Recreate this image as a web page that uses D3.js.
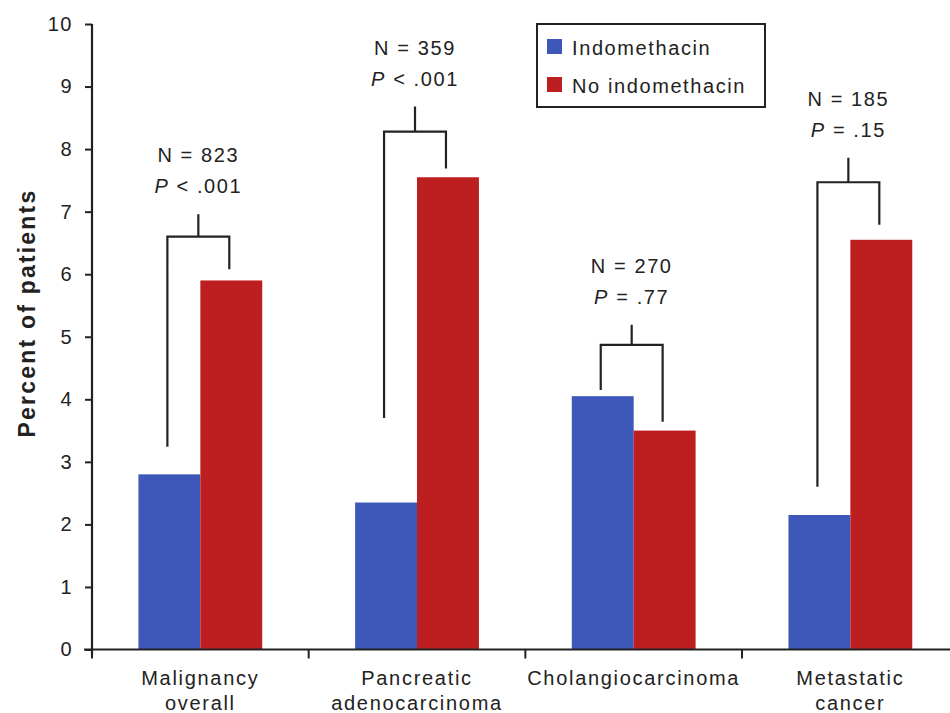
<!DOCTYPE html>
<html>
<head>
<meta charset="utf-8">
<script src="https://cdn.jsdelivr.net/npm/d3@7"></script>
<style>
  html, body { margin: 0; padding: 0; background: #fff; }
  svg { display: block; }
  text { font-family: "Liberation Sans", Arial, Helvetica, sans-serif; fill: #222; }
</style>
</head>
<body>
<svg id="chart" width="950" height="713"></svg>
<script>
// Categories (label lines) and series
const categories = ["Malignancy overall", "Pancreatic adenocarcinoma", "Cholangiocarcinoma", "Metastatic cancer"];
const categoryLines = [["Malignancy", "overall"], ["Pancreatic", "adenocarcinoma"], ["Cholangiocarcinoma"], ["Metastatic", "cancer"]];
const seriesNames = ["Indomethacin", "No indomethacin"];
const indomethacin = [2.8, 2.35, 4.05, 2.15];
const noIndomethacin = [5.9, 7.55, 3.5, 6.55];
const yTicks = [0, 1, 2, 3, 4, 5, 6, 7, 8, 9, 10];

// Comparison annotations
const nLabels = ["N = 823", "N = 359", "N = 270", "N = 185"];
const pOps = ["< .001", "< .001", "= .77", "= .15"];
// Bracket levels, in percent units
const bracketTop = [6.6, 8.28, 4.87, 7.47];
const stemTop = [6.96, 8.68, 5.19, 7.86];
const leftLegEnd = [3.24, 3.7, 4.15, 2.6];
const rightLegEnd = [6.08, 7.69, 3.64, 6.79];

const colors = ["#3d58b8", "#bd1f20"];
const ink = "#222";

const svg = d3.select("#chart");

const y = d3.scaleLinear().domain([0, 10]).range([649.5, 24]);
const x = d3.scaleBand().domain(categories).range([92, 958.7]).padding(0);
const xs = d3.scaleBand().domain(seriesNames).range([0, x.bandwidth()]).paddingInner(0).paddingOuter(0.75);

const rows = categories.map((c, i) => ({
  cat: c, i,
  vals: [indomethacin[i], noIndomethacin[i]]
}));

// Bars
const g = svg.append("g");
const groups = g.selectAll("g.grp").data(rows).join("g")
  .attr("class", "grp")
  .attr("transform", d => `translate(${x(d.cat)},0)`);
groups.selectAll("rect").data(d => d.vals.map((v, k) => ({ v, k })))
  .join("rect")
  .attr("x", d => xs(seriesNames[d.k]))
  .attr("width", xs.bandwidth())
  .attr("y", d => y(d.v))
  .attr("height", d => y(0) - y(d.v))
  .attr("fill", d => colors[d.k]);

// Brackets and labels
const ann = svg.append("g");
rows.forEach((d, i) => {
  const xl = x(d.cat) + xs(seriesNames[0]) + xs.bandwidth() / 2 - 2;
  const xr = x(d.cat) + xs(seriesNames[1]) + xs.bandwidth() / 2 - 2;
  const xc = (xl + xr) / 2;
  const path = d3.path();
  path.moveTo(xl, y(leftLegEnd[i]));
  path.lineTo(xl, y(bracketTop[i]));
  path.lineTo(xr, y(bracketTop[i]));
  path.lineTo(xr, y(rightLegEnd[i]));
  path.moveTo(xc, y(bracketTop[i]));
  path.lineTo(xc, y(stemTop[i]));
  ann.append("path").attr("d", path.toString())
    .attr("fill", "none").attr("stroke", ink).attr("stroke-width", 2.2);

  const pBase = y(stemTop[i]) - 21;
  ann.append("text").attr("x", xc).attr("y", pBase - 31)
    .attr("text-anchor", "middle").attr("font-size", 20).attr("letter-spacing", 1.6)
    .text(nLabels[i]);
  const t = ann.append("text").attr("x", xc).attr("y", pBase)
    .attr("text-anchor", "middle").attr("font-size", 20).attr("letter-spacing", 1.6);
  t.append("tspan").attr("font-style", "italic").text("P");
  t.append("tspan").text(" " + pOps[i]);
});

// Y axis
const yAxis = d3.axisLeft(y).tickValues(yTicks).tickSize(7).tickPadding(12).tickFormat(d3.format("d"));
const ya = svg.append("g").attr("transform", "translate(92,0)").call(yAxis);
ya.select(".domain").attr("stroke", ink).attr("stroke-width", 2.2).attr("d", `M0,${y(10)}V${y(0) + 6}`);
ya.selectAll(".tick line").attr("stroke", ink).attr("stroke-width", 2);
ya.selectAll(".tick text").attr("font-size", 20).attr("letter-spacing", 1.5).attr("fill", ink)
  .attr("font-family", "'Liberation Sans', Arial, Helvetica, sans-serif");

// X axis: baseline, boundary ticks and category labels
const xa = svg.append("g");
xa.append("line").attr("x1", 84).attr("x2", 950).attr("y1", y(0)).attr("y2", y(0))
  .attr("stroke", ink).attr("stroke-width", 2.2);
xa.selectAll("line.bt").data(categories).join("line").attr("class", "bt")
  .attr("x1", d => x(d)).attr("x2", d => x(d))
  .attr("y1", y(0)).attr("y2", y(0) + 9)
  .attr("stroke", ink).attr("stroke-width", 2);
xa.selectAll("text.cat").data(categories).join("text").attr("class", "cat")
  .attr("text-anchor", "middle").attr("font-size", 20).attr("letter-spacing", 1.7)
  .each(function (d, i) {
    const cx = x(d) + x.bandwidth() / 2;
    d3.select(this).selectAll("tspan").data(categoryLines[i]).join("tspan")
      .attr("x", cx).attr("y", (l, k) => 685 + k * 25).text(l => l);
  });

// Y axis title
svg.append("text")
  .attr("transform", "translate(35,313) rotate(-90)")
  .attr("text-anchor", "middle").attr("font-size", 23).attr("font-weight", "bold")
  .attr("letter-spacing", 2.2)
  .text("Percent of patients");

// Legend
const lg = svg.append("g");
lg.append("rect").attr("x", 537).attr("y", 24).attr("width", 228).attr("height", 83)
  .attr("fill", "#fff").attr("stroke", ink).attr("stroke-width", 2);
seriesNames.forEach((s, k) => {
  lg.append("rect").attr("x", 547).attr("y", 39 + k * 38).attr("width", 15).attr("height", 15)
    .attr("fill", colors[k]);
  lg.append("text").attr("x", 572).attr("y", 55 + k * 38)
    .attr("font-size", 20).attr("letter-spacing", 1.6).text(s);
});
</script>
</body>
</html>
